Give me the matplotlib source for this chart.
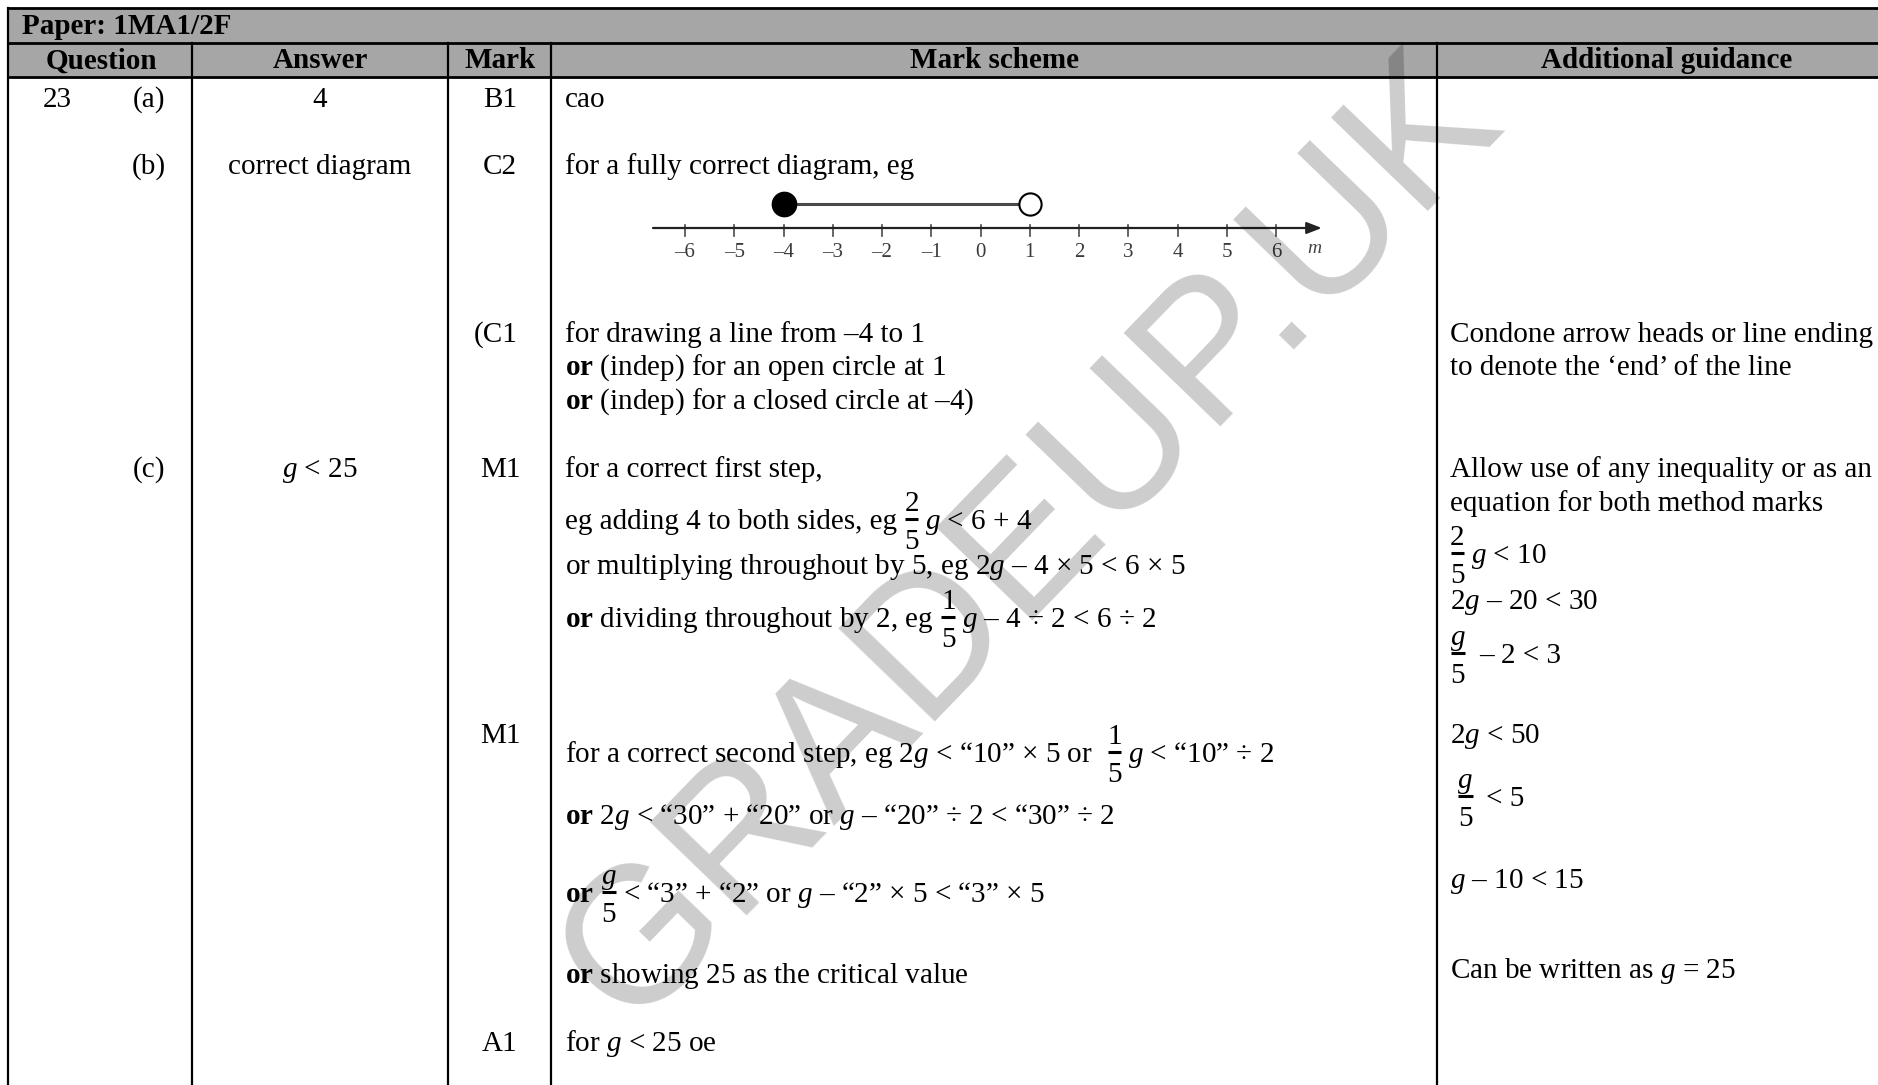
import matplotlib
matplotlib.use('Agg')
import matplotlib.pyplot as plt

plt.rcParams['font.family'] = ['Liberation Serif', 'DejaVu Serif']
plt.rcParams['mathtext.fontset'] = 'custom'
plt.rcParams['mathtext.rm'] = 'Liberation Serif'
plt.rcParams['mathtext.it'] = 'Liberation Serif:italic'
plt.rcParams['mathtext.bf'] = 'Liberation Serif:bold'

# ---------------- content ----------------
paper_title = 'Paper: 1MA1/2F'
headers = ['Question', 'Answer', 'Mark', 'Mark scheme', 'Additional guidance']
question_no = '23'
parts = ['(a)', '(b)', '(c)']
answers = ['4', 'correct diagram', '$g$ < 25']
marks = ['B1', 'C2', '(C1', 'M1', 'M1', 'A1']

OR = r'$\mathbf{or}$ '
# strings are text runs, tuples are stacked fractions (numerator, denominator)
scheme_lines = [
    ['cao'],
    ['for a fully correct diagram, eg'],
    ['for drawing a line from \u20134 to 1'],
    [OR + '(indep) for an open circle at 1'],
    [OR + '(indep) for a closed circle at \u20134)'],
    ['for a correct first step,'],
    ['eg adding 4 to both sides, eg ', ('2', '5'), '$g$ < 6 + 4'],
    ['or multiplying throughout by 5, eg 2$g$ \u2013 4 \u00d7 5 < 6 \u00d7 5'],
    [OR + 'dividing throughout by 2, eg ', ('1', '5'), '$g$ \u2013 4 \u00f7 2 < 6 \u00f7 2'],
    ['for a correct second step, eg 2$g$ < \u201c10\u201d \u00d7 5 or  ', ('1', '5'), '$g$ < \u201c10\u201d \u00f7 2'],
    [OR + '2$g$ < \u201c30\u201d + \u201c20\u201d or $g$ \u2013 \u201c20\u201d \u00f7 2 < \u201c30\u201d \u00f7 2'],
    [OR, ('$g$', '5'), '< \u201c3\u201d + \u201c2\u201d or $g$ \u2013 \u201c2\u201d \u00d7 5 < \u201c3\u201d \u00d7 5'],
    [OR + 'showing 25 as the critical value'],
    ['for $g$ < 25 oe'],
]
guidance_lines = [
    ['Condone arrow heads or line ending'],
    ['to denote the \u2018end\u2019 of the line'],
    ['Allow use of any inequality or as an'],
    ['equation for both method marks'],
    [('2', '5'), '$g$ < 10'],
    ['2$g$ \u2013 20 < 30'],
    [('$g$', '5'), ' \u2013 2 < 3'],
    ['2$g$ < 50'],
    [' ', ('$g$', '5'), ' < 5'],
    ['$g$ \u2013 10 < 15'],
    ['Can be written as $g$ = 25'],
]

# number line example
nl_ticks = list(range(-6, 7))
nl_closed = -4
nl_open = 1
nl_var = 'm'
watermark = 'GRADEUP.UK'

# ---------------- layout (pixels) ----------------
W, H = 1878, 1085
fig = plt.figure(figsize=(W / 100, H / 100), dpi=100)
ax = fig.add_axes([0, 0, 1, 1])
ax.set_xlim(0, W)
ax.set_ylim(H, 0)
ax.axis('off')
renderer = fig.canvas.get_renderer()

grey = '#a6a6a6'
x_left, x_right = 8, 1900
col_x = [8, 192, 448, 551, 1437]
y_top, y_mid, y_head = 8, 43, 77
lw_h = 2.0
lw_v = 1.6

ax.fill_between([x_left, x_right], y_top, y_head, color=grey, zorder=0)
for y in (y_top, y_mid, y_head):
    ax.plot([x_left, x_right], [y, y], color='black', lw=lw_h, solid_capstyle='butt', zorder=2)
ax.plot([x_left, x_left], [y_top, H + 5], color='black', lw=lw_v, zorder=2)
for x in col_x[1:]:
    ax.plot([x, x], [y_mid, H + 5], color='black', lw=lw_v, zorder=2)

FS = 21
SPACE = 7.3  # width of a space at FS, px


def width_of(t):
    return t.get_window_extent(renderer=renderer).width


def draw_line(x, y, items):
    """Draw a run of text pieces and stacked fractions on baseline y."""
    for it in items:
        if isinstance(it, str):
            if it.startswith(' '):
                x += SPACE * (len(it) - len(it.lstrip(' ')))
            s = it.strip(' ')
            if s:
                t = ax.text(x, y, s, fontsize=FS, ha='left', va='baseline')
                x += width_of(t)
            if it.endswith(' ') and it.strip(' '):
                x += SPACE * (len(it) - len(it.rstrip(' ')))
        else:
            num, den = it
            tn = ax.text(0, y - 18, num, fontsize=FS, ha='center', va='baseline')
            td = ax.text(0, y + 20, den, fontsize=FS, ha='center', va='baseline')
            w = max(width_of(tn), width_of(td))
            cx = x + w / 2
            tn.set_x(cx)
            td.set_x(cx)
            ax.plot([x + 0.5, x + w - 0.5], [y - 10, y - 10], color='black', lw=2.2,
                    solid_capstyle='butt')
            x += w + 6


ax.text(22, 26, paper_title, fontsize=FS, fontweight='bold', ha='left', va='center')
head_cx = [101, 320, 500, 994, 1667]
for cx, h in zip(head_cx, headers):
    ax.text(cx, 61, h, fontsize=FS, fontweight='bold', ha='center', va='center')

ax.text(57, 107, question_no, fontsize=FS, ha='center', va='baseline')
for y, p in zip([107, 174, 477], parts):
    ax.text(149, y, p, fontsize=FS, ha='center', va='baseline')
for y, a in zip([107, 174, 477], answers):
    ax.text(320, y, a, fontsize=FS, ha='center', va='baseline')
for y, m in zip([107, 174, 342, 477, 743, 1051], marks):
    ax.text(500 if m != '(C1' else 496, y, m, fontsize=FS, ha='center', va='baseline')

scheme_y = [107, 174, 342, 375, 409, 477, 529, 574, 627, 762, 824, 902, 983, 1051]
for y, items in zip(scheme_y, scheme_lines):
    draw_line(565, y, items)

guide_y = [342, 375, 477, 511, 563, 609, 663, 743, 806, 888, 978]
for y, items in zip(guide_y, guidance_lines):
    draw_line(1450, y, items)

# ---------------- number line (inset axes) ----------------
px_unit = (1276 - 685) / 12.0
py_unit = 24.0
nl_l, nl_r, nl_t, nl_b = 640, 1345, 185, 272
nax = fig.add_axes([nl_l / W, 1 - nl_b / H, (nl_r - nl_l) / W, (nl_b - nl_t) / H])
nax.set_xlim(-6 - (685 - nl_l) / px_unit, 6 + (nl_r - 1276) / px_unit)
nax.set_ylim(-(nl_b - 228) / py_unit, (228 - nl_t) / py_unit)
nax.axis('off')
nax.patch.set_alpha(0)
ln_col = '#4a4a4a'
x0 = nl_ticks[0] - 0.65
x1 = nl_ticks[-1] + 0.93
nax.annotate('', xy=(x1, 0), xytext=(x0, 0),
             arrowprops=dict(arrowstyle='-|>,head_length=0.9,head_width=0.35', color='#222222', lw=1.6,
                             shrinkA=0, shrinkB=0))
for t in nl_ticks:
    nax.plot([t, t], [0.12, -0.34], color=ln_col, lw=1.2)
    lab = ('\u2013' + str(-t)) if t < 0 else str(t)
    nax.text(t, -1.0, lab, ha='center', va='center', fontsize=15, color='#3a3a3a')
nax.text(nl_ticks[-1] + 0.78, -0.85, nl_var, ha='center', va='center', fontsize=14, style='italic',
         color='#444444')
nax.plot([nl_closed, nl_open], [1, 1], color=ln_col, lw=2.2, zorder=2)
nax.plot([nl_closed], [1], marker='o', ms=17.5, color='black', zorder=3)
nax.plot([nl_open], [1], marker='o', ms=16, mfc='white', mec='black', mew=1.5, zorder=3)

# ---------------- watermark ----------------
fig.text(1030 / W, 1 - 540 / H, watermark, rotation=46, ha='center', va='center',
         fontsize=140, family='Liberation Sans', color=(0, 0, 0, 0.2), zorder=10)

fig.savefig('out.png', dpi=100)
